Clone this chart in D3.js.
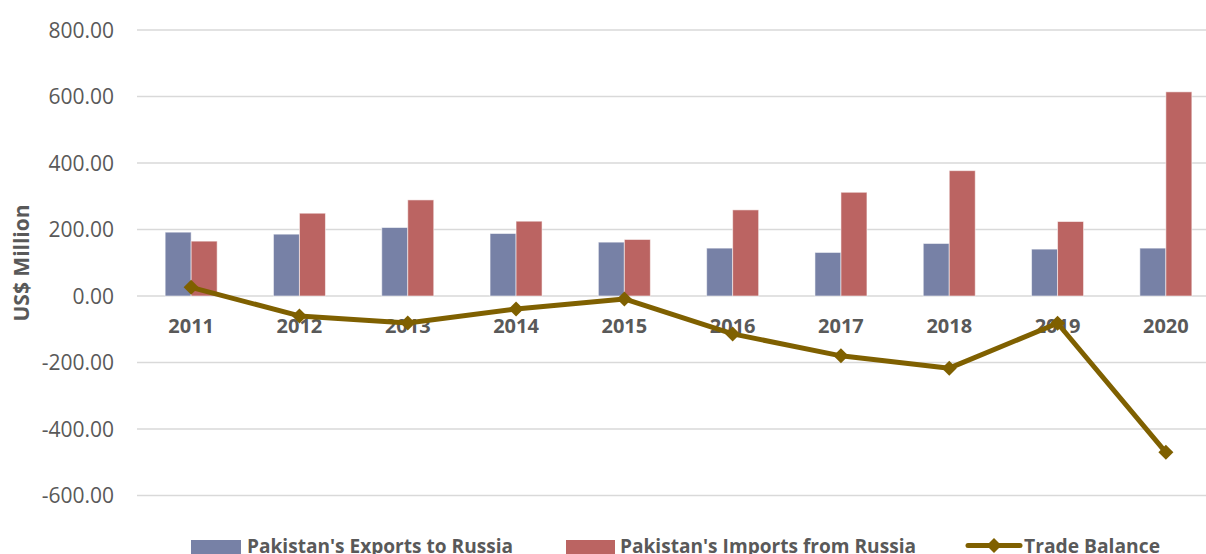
<!DOCTYPE html>
<html>
<head>
<meta charset="utf-8">
<script src="https://cdn.jsdelivr.net/npm/d3@7"></script>
<style>
  html, body { margin: 0; padding: 0; background: #fff; }
  svg { display: block; }
</style>
</head>
<body>
<svg id="chart" width="1206" height="554"></svg>
<script>
const years = ["2011","2012","2013","2014","2015","2016","2017","2018","2019","2020"];
const exportsRU = [192, 186, 206, 188, 162, 144, 131, 158, 141, 144];
const importsRU = [165, 249, 289, 225, 170, 259, 312, 377, 224, 614];
const tradeBalance = [26, -60, -81, -39, -9, -114, -180, -217, -82, -470];
const yTicks = [-600, -400, -200, 0, 200, 400, 600, 800];
const seriesNames = ["Pakistan's Exports to Russia", "Pakistan's Imports from Russia", "Trade Balance"];

const W = 1206, H = 554;
const colors = { exp: "#7781A6", imp: "#BB6462", line: "#7F6000" };
const svg = d3.select("#chart");

const x0 = d3.scaleBand().domain(years).range([137, 1220]).padding(0);
const bw = x0.bandwidth();
const groupW = 52;
const x1 = d3.scaleBand().domain(["exp","imp"]).range([(bw - groupW) / 2, (bw + groupW) / 2]).padding(0);
const y = d3.scaleLinear().domain([-600, 800]).range([495.5, 30]);
const fmt = d => d3.format(".2f")(d).replace("\u2212", "-");

// gridlines
svg.append("g").selectAll("line").data(yTicks).join("line")
  .attr("x1", 137).attr("x2", W)
  .attr("y1", d => y(d)).attr("y2", d => y(d))
  .attr("stroke", "#d9d9d9").attr("stroke-width", 1.5);

// y tick labels
svg.append("g").selectAll("text").data(yTicks).join("text")
  .attr("x", 114).attr("y", d => y(d) + 7.5)
  .attr("text-anchor", "end")
  .attr("font-family", "Open Sans, sans-serif").attr("font-size", 21)
  .attr("fill", "#595959")
  .text(fmt);

// y title
svg.append("text")
  .attr("transform", "translate(29,263) rotate(-90)")
  .attr("text-anchor", "middle")
  .attr("font-family", "Open Sans, sans-serif").attr("font-size", 21).attr("font-weight", "bold")
  .attr("fill", "#595959")
  .text("US$ Million");

// bars
const barData = years.map((yr, i) => ({ yr, exp: exportsRU[i], imp: importsRU[i] }));
const g = svg.append("g");
g.selectAll("g").data(barData).join("g")
  .attr("transform", d => `translate(${x0(d.yr)},0)`)
  .selectAll("rect")
  .data(d => [{k: "exp", v: d.exp}, {k: "imp", v: d.imp}])
  .join("rect")
  .attr("x", d => x1(d.k))
  .attr("width", x1.bandwidth())
  .attr("y", d => y(Math.max(0, d.v)))
  .attr("height", d => Math.abs(y(d.v) - y(0)))
  .attr("fill", d => colors[d.k])
  .attr("stroke", "rgba(255,255,255,0.55)").attr("stroke-width", 1);

// category labels
svg.append("g").selectAll("text").data(years).join("text")
  .attr("x", d => x0(d) + bw / 2).attr("y", 333)
  .attr("text-anchor", "middle")
  .attr("font-family", "Open Sans, sans-serif").attr("font-size", 20).attr("font-weight", "bold")
  .attr("fill", "#595959")
  .text(d => d);

// trade balance line
const line = d3.line().x((d, i) => x0(years[i]) + bw / 2).y(d => y(d));
svg.append("path").datum(tradeBalance)
  .attr("d", line)
  .attr("fill", "none").attr("stroke", colors.line).attr("stroke-width", 5)
  .attr("stroke-linejoin", "round");

const dm = 7.5;
const diamond = `M0,${-dm}L${dm},0L0,${dm}L${-dm},0Z`;
svg.append("g").selectAll("path").data(tradeBalance).join("path")
  .attr("transform", (d, i) => `translate(${x0(years[i]) + bw / 2},${y(d)})`)
  .attr("d", diamond)
  .attr("fill", colors.line);

// legend
const leg = svg.append("g");
const legFont = (sel) => sel.attr("font-family", "Open Sans, sans-serif").attr("font-size", 20)
  .attr("font-weight", "bold").attr("fill", "#595959").attr("lengthAdjust", "spacingAndGlyphs");

leg.append("rect").attr("x", 191).attr("y", 540).attr("width", 50).attr("height", 20).attr("fill", colors.exp);
leg.append("text").attr("x", 247).attr("y", 553).attr("textLength", 266).call(legFont).text(seriesNames[0]);

leg.append("rect").attr("x", 566).attr("y", 540).attr("width", 49).attr("height", 20).attr("fill", colors.imp);
leg.append("text").attr("x", 620).attr("y", 553).attr("textLength", 296).call(legFont).text(seriesNames[1]);

leg.append("line").attr("x1", 968).attr("x2", 1020).attr("y1", 545.5).attr("y2", 545.5)
  .attr("stroke", colors.line).attr("stroke-width", 5).attr("stroke-linecap", "round");
leg.append("path").attr("transform", "translate(994,545.5)").attr("d", diamond).attr("fill", colors.line);
leg.append("text").attr("x", 1024).attr("y", 553).attr("textLength", 136).call(legFont).text(seriesNames[2]);
</script>
</body>
</html>
